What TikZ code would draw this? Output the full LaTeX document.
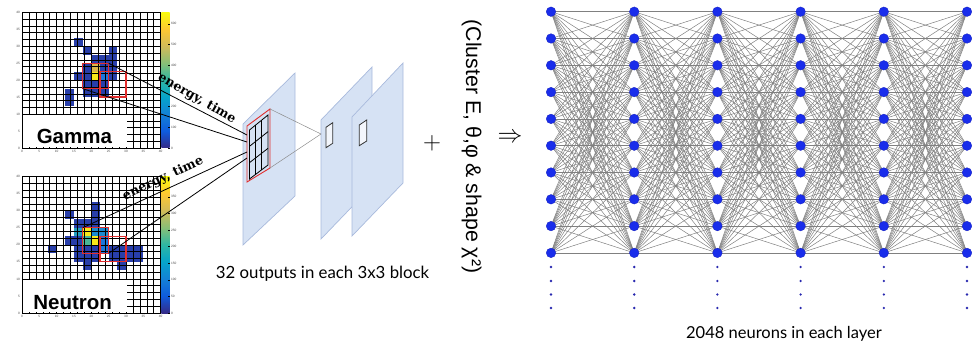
\documentclass[tikz,border=0pt]{standalone}
\usepackage{fontspec}
\newfontfamily\arialf{Liberation Sans}
\newfontfamily\latof{Lato}
\newfontfamily\dejaserif{DejaVu Serif}[BoldFont={DejaVu Serif Bold}]
\usetikzlibrary{calc}
\pgfdeclarelayer{background}
\pgfsetlayers{background,main}
\definecolor{cdark}{RGB}{40,62,170}
\definecolor{cmed}{RGB}{28,118,222}
\definecolor{cteal}{RGB}{35,160,190}
\definecolor{cteal2}{RGB}{25,138,208}
\definecolor{cgreen}{RGB}{75,180,150}
\definecolor{cyel}{RGB}{248,232,25}
\definecolor{cgold}{RGB}{218,182,72}
\definecolor{b0}{RGB}{53,42,135}
\definecolor{b1}{RGB}{15,92,221}
\definecolor{b2}{RGB}{20,129,214}
\definecolor{b3}{RGB}{6,164,202}
\definecolor{b4}{RGB}{46,183,164}
\definecolor{b5}{RGB}{135,191,119}
\definecolor{b6}{RGB}{209,187,89}
\definecolor{b7}{RGB}{254,200,50}
\definecolor{b8}{RGB}{249,251,14}
\definecolor{planefill}{RGB}{214,226,244}
\definecolor{planeedge}{RGB}{168,186,220}
\definecolor{redline}{RGB}{225,45,45}
\definecolor{neuronc}{RGB}{25,45,235}
\definecolor{neuronb}{RGB}{20,30,190}
\definecolor{dotc}{RGB}{40,40,175}
\definecolor{edgec}{RGB}{128,128,128}
\pgfdeclareverticalshading{birdshade}{100bp}{color(0bp)=(b0); color(25bp)=(b0); color(31.25bp)=(b1); color(37.5bp)=(b2); color(43.75bp)=(b3); color(50bp)=(b4); color(56.25bp)=(b5); color(62.5bp)=(b6); color(68.75bp)=(b7); color(75bp)=(b8); color(100bp)=(b8)}
\tikzset{
  gridline/.style={draw=black, line width=0.5pt},
  redbox/.style={draw=redline, line width=1.3pt},
  ticklab/.style={font=\arialf\fontsize{3.2}{3.5}\selectfont, text=black!70, inner sep=0.5pt},
  hmlabel/.style={font=\arialf\bfseries\fontsize{20.5}{22}\selectfont, inner sep=0pt},
  feedline/.style={draw=black, line width=0.8pt},
  etlabel/.style={font=\dejaserif\bfseries\fontsize{12.6}{13}\selectfont, inner sep=0pt},
  plane/.style={fill=planefill, draw=planeedge, line width=0.7pt},
  projline/.style={draw=black!45, line width=0.5pt},
  smallrect/.style={draw=black!80, fill=white!70!planefill, line width=0.8pt},
  neuron/.style={circle, fill=neuronc, draw=neuronb, line width=0.3pt, inner sep=0pt, minimum size=9.6pt},
  nnedge/.style={draw=edgec, line width=0.5pt},
  captext/.style={font=\latof\fontsize{16.8}{18}\selectfont, inner sep=0pt},
}
\newcommand{\hmbase}{%
  \foreach \u in {0,2,...,40} \draw[gridline] (\u,0) -- (\u,40);
  \foreach \v in {0,2,...,40} \draw[gridline] (0,\v) -- (40,\v);
  \fill[white] (0.25,0.25) rectangle (30.2,9.6);
  \draw[black, line width=0.5pt] (0,0) rectangle (40,40);
  \shade[shading=birdshade] (40.2,0) rectangle (42.6,40);
  \foreach \t in {0,5,...,40} {
    \node[ticklab, anchor=east] at (-0.4,\t) {\t};
    \node[ticklab, anchor=north] at (\t,-0.5) {\t};
  }
}
\begin{document}
\begin{tikzpicture}[x=1pt, y=-1pt]
\useasboundingbox (0,0) rectangle (976,344);

% ---------------- Gamma heat map ----------------
\begin{scope}[shift={(22pt,-148pt)}, x=3.467pt, y=3.39pt]
  \foreach \a/\b/\c in {15/30/cdark, 17.5/27.5/cdark, 25/27.5/cdark,
    20/25/cdark, 22.5/25/cdark, 25/25/cdark,
    17.5/22.5/cdark, 20/22.5/cgold, 22.5/22.5/cdark, 25/22.5/cdark,
    15/20/cdark, 17.5/20/cdark, 20/20/cyel, 22.5/20/cmed, 25/20/cdark,
    17.5/17.5/cdark, 20/17.5/cdark, 22.5/17.5/cdark,
    17.5/15/cdark, 20/15/cdark, 22.5/15/cdark,
    12.5/15/cdark, 12.5/12.5/cdark}
    \fill[\c] (\a,\b) rectangle ++(2.5,2.5);
  \hmbase
  \foreach \t in {0,100,...,600} {
    \draw[black, line width=0.3pt] (42.6,{\t*0.06106}) -- ++(-0.6,0);
    \node[ticklab, anchor=west] at (42.8,{\t*0.06106}) {\t};
  }
  \node[hmlabel] (gammalab) at (15.1,3.3) {Gamma};
  \draw[redbox] (17.5,17.5) rectangle (25,25);
  \draw[redbox] (22.5,15) rectangle (30,22.5);
  \coordinate (gA) at (25,25);
  \coordinate (gB) at (17.5,17.5);
\end{scope}

% ---------------- Neutron heat map ----------------
\begin{scope}[shift={(22pt,-313pt)}, x=3.467pt, y=3.41pt]
  \foreach \a/\b/\c in {20/30/cdark, 12.5/27.5/cdark, 20/27.5/cdark,
    15/25/cdark, 17.5/25/cdark, 20/25/cdark,
    15/22.5/cteal, 17.5/22.5/cyel, 20/22.5/cteal2, 22.5/22.5/cteal2,
    12.5/20/cdark, 15/20/cdark, 17.5/20/cgreen, 20/20/cyel, 22.5/20/cmed,
    7.5/17.5/cdark, 15/17.5/cdark, 17.5/17.5/cdark, 20/17.5/cdark, 22.5/17.5/cmed,
    25/17.5/cdark, 27.5/17.5/cdark, 30/17.5/cdark, 32.5/17.5/cdark,
    15/15/cdark, 17.5/15/cdark, 20/15/cdark, 25/15/cdark, 27.5/15/cdark, 30/15/cdark, 32.5/15/cdark,
    17.5/12.5/cdark, 27.5/12.5/cdark}
    \fill[\c] (\a,\b) rectangle ++(2.5,2.5);
  \hmbase
  \foreach \t in {0,50,...,350} {
    \draw[black, line width=0.3pt] (42.6,{\t*0.09736}) -- ++(-0.6,0);
    \node[ticklab, anchor=west] at (42.8,{\t*0.09736}) {\t};
  }
  \node[hmlabel] (neutronlab) at (14.6,3.2) {Neutron};
  \draw[redbox] (17.5,17.5) rectangle (25,25);
  \draw[redbox] (22.5,15) rectangle (30,22.5);
  \coordinate (nA) at (17.5,25);
  \coordinate (nB) at (25,17.5);
\end{scope}

% ---------------- Convolution planes ----------------
\draw[plane] (243,124) -- (295,73) -- (295,196) -- (243,245) -- cycle;
\coordinate (rTL) at (247,126);
\coordinate (rTR) at (270,109);
\coordinate (rBR) at (270,168);
\coordinate (rBL) at (247,182);
\draw[draw=redline, line width=0.9pt] (rTL) -- (rTR) -- (rBR) -- (rBL) -- cycle;
\coordinate (kTL) at (249.5,130);
\coordinate (kTR) at (268,115);
\coordinate (kBR) at (268,165);
\coordinate (kBL) at (249.5,179);
\draw[black, line width=0.8pt] (kTL) -- (kTR) -- (kBR) -- (kBL) -- cycle;
\foreach \f in {0.3333,0.6667} {
  \draw[black, line width=0.8pt] ($(kTL)!\f!(kTR)$) -- ($(kBL)!\f!(kBR)$);
  \draw[black, line width=0.8pt] ($(kTL)!\f!(kBL)$) -- ($(kTR)!\f!(kBR)$);
}

\coordinate (e1) at (247,135);
\coordinate (e2) at (247,142);
\coordinate (e3) at (247,152);
\coordinate (e4) at (247,158);
\draw[feedline] (gA) -- (e1);
\draw[feedline] (gB) -- (e2);
\draw[feedline] (nA) -- (e3);
\draw[feedline] (nB) -- (e4);
\node[etlabel, rotate=-30] (etg) at (197,98.5) {energy, time};
\node[etlabel, rotate=25] (etn) at (163,178.5) {energy, time};

\draw[plane] (321,120) -- (372,67) -- (372,186) -- (321,239) -- cycle;
\coordinate (pin) at (321,134);
\draw[projline] (rTR) -- (pin);
\draw[projline] (rBR) -- (pin);
\draw[smallrect] (326,127.3) -- (332.7,122.7) -- (332.7,143.3) -- (326,147.7) -- cycle;
\draw[plane] (352,117) -- (403,63) -- (403,183) -- (352,236) -- cycle;
\draw[smallrect] (359.3,125) -- (366.7,120) -- (366.7,141) -- (359.3,145.7) -- cycle;

\node[captext] (convcap) at (322.5,274) {32 outputs in each 3x3 block};

% ---------------- plus, extra inputs, arrow ----------------
\node[inner sep=0pt, font=\fontsize{32}{32}\selectfont] (plus) at (432,143) {$+$};
\node[rotate=-90, inner sep=0pt, font=\arialf\fontsize{21.3}{24}\selectfont] (extra) at (471.5,146.5) {(Cluster E, θ,φ \& shape χ²)};
\node[inner sep=0pt, font=\fontsize{26}{26}\selectfont] (arrow) at (510,138) {$\Rightarrow$};

% ---------------- Dense network ----------------
\foreach \k in {0,...,5} {
  \foreach \j in {0,...,9} {
    \node[neuron] (n-\k-\j) at ({551+83.2*\k},{11.7+26.8*\j}) {};
  }
  \foreach \d in {267,281,294.5,308}
    \fill[dotc] ({551+83.2*\k},\d) circle (1.3);
}
\begin{pgfonlayer}{background}
\foreach \k [evaluate=\k as \kn using int(\k+1)] in {0,...,4}
  \foreach \j in {0,...,9}
    \foreach \m in {0,...,9}
      \draw[nnedge] (n-\k-\j.center) -- (n-\kn-\m.center);
\end{pgfonlayer}

\node[captext, font=\latof\fontsize{16.5}{18}\selectfont] (nncap) at (784,334) {2048 neurons in each layer};
\end{tikzpicture}
\end{document}
